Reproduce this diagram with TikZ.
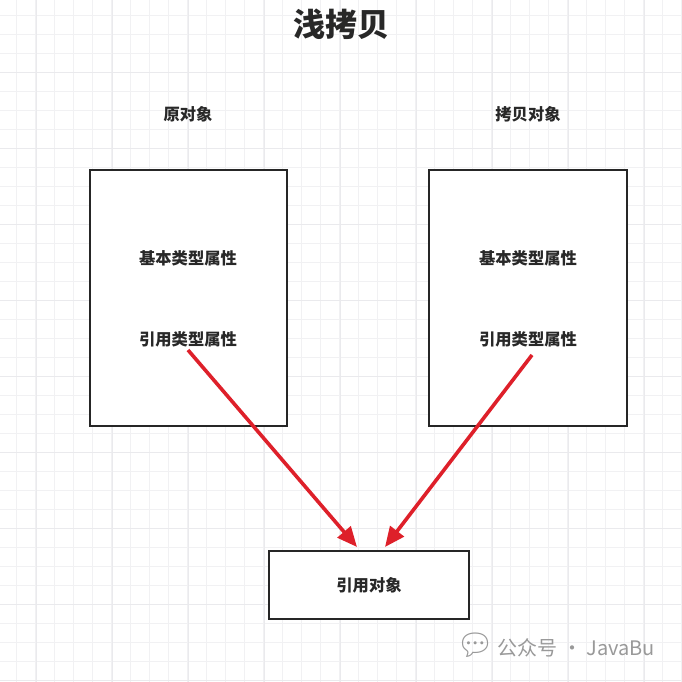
\documentclass[tikz,border=0pt]{standalone}
\usepackage{fontspec}
\setmainfont{Noto Sans CJK SC}
\newfontfamily\emojifont{Noto Emoji}
\usetikzlibrary{arrows.meta}
\definecolor{gridminor}{RGB}{241,241,243}
\definecolor{gridmajor}{RGB}{234,234,237}
\definecolor{arrred}{RGB}{222,32,42}
\definecolor{txt}{RGB}{40,40,40}
\tikzset{
  box/.style={draw=black!85,line width=1.3pt,fill=white},
  lbl/.style={font=\bfseries\fontsize{16.3}{19}\selectfont,text=txt},
  refarrow/.style={draw=arrred,line width=3.6pt,-{Triangle[length=20pt,width=17pt]}}
}
\begin{document}
\begin{tikzpicture}[x=1pt,y=-1pt]
\useasboundingbox (0,0) rectangle (681,682);
\fill[white] (0,0) rectangle (681,682);
\foreach \i in {0,...,36}{
  \draw[gridminor,line width=0.6pt] ({-3+19*\i},0) -- ({-3+19*\i},682);
  \draw[gridminor,line width=0.6pt] (0,{-4+19*\i}) -- (681,{-4+19*\i});
}
\foreach \i in {0,...,9}{
  \draw[gridmajor,line width=0.7pt] ({36+76*\i},0) -- ({36+76*\i},682);
  \draw[gridmajor,line width=0.7pt] (0,{-4+76*\i}) -- (681,{-4+76*\i});
}
\node[font=\bfseries\fontsize{32}{36}\selectfont,text=txt] (title) at (341,24) {浅拷贝};
\node[lbl] (l1) at (188,114) {原对象};
\node[lbl] (l2) at (528,114) {拷贝对象};
\node[box,minimum width=197pt,minimum height=256pt] (orig) at (188.5,298) {};
\node[box,minimum width=198pt,minimum height=256pt] (copy) at (528,298) {};
\node[box,minimum width=200pt,minimum height=68pt] (ref) at (369,585) {};
\node[lbl] (ob) at (188,258) {基本类型属性};
\node[lbl] (oy) at (188,339) {引用类型属性};
\node[lbl] (cb) at (528,258) {基本类型属性};
\node[lbl] (cy) at (528,339) {引用类型属性};
\node[lbl] (rt) at (369,585) {引用对象};
\coordinate (s1) at (188,350);
\coordinate (e1) at (357,547);
\coordinate (s2) at (532,355);
\coordinate (e2) at (385,547);
\draw[refarrow] (s1) -- (e1);
\draw[refarrow] (s2) -- (e2);
\node[font=\fontsize{20}{24}\selectfont,text=black!40,anchor=west,inner sep=0pt] (wm) at (456,645) {{\emojifont\fontsize{30}{30}\selectfont 💬}\,公众号 · JavaBu};
\end{tikzpicture}
\end{document}
